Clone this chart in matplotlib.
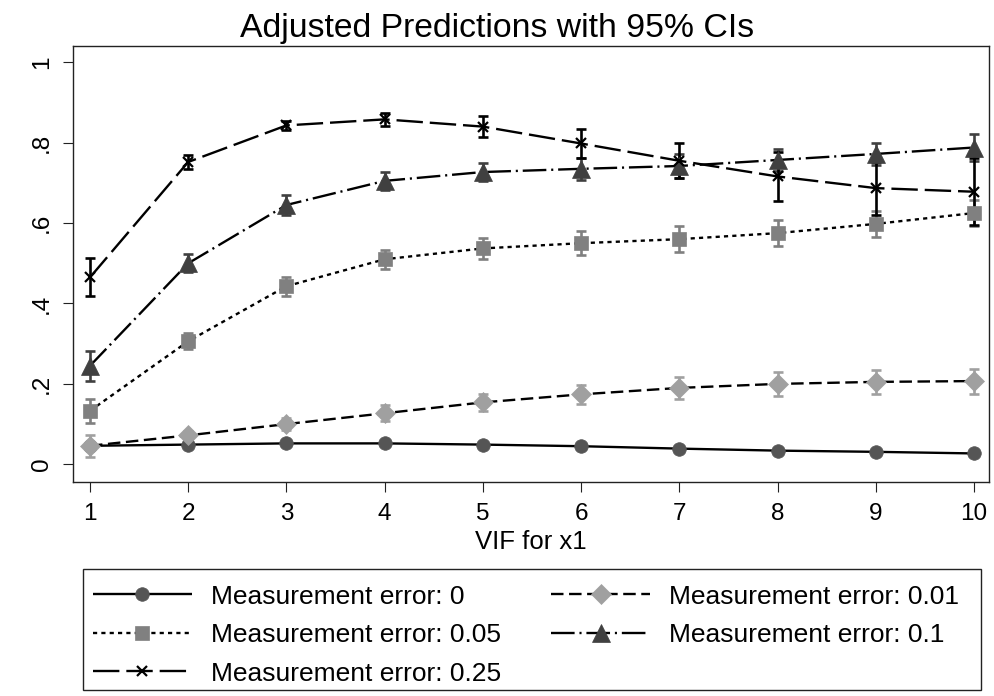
import matplotlib
matplotlib.use('Agg')
import matplotlib.pyplot as plt
from matplotlib.patches import Rectangle
import numpy as np

plt.rcParams['font.family'] = ['Liberation Sans', 'DejaVu Sans']
plt.rcParams['lines.scale_dashes'] = False

# VIF values on the x axis
vif = [1, 2, 3, 4, 5, 6, 7, 8, 9, 10]

# predicted values (margins) and half-width of 95% CI per measurement error level
me_0 = [0.046, 0.049, 0.052, 0.052, 0.049, 0.045, 0.039, 0.034, 0.031, 0.027]
me_0_ci = [0.008, 0.006, 0.006, 0.006, 0.006, 0.006, 0.006, 0.006, 0.005, 0.005]

me_001 = [0.046, 0.072, 0.100, 0.127, 0.154, 0.174, 0.190, 0.200, 0.205, 0.207]
me_001_ci = [0.027, 0.012, 0.015, 0.020, 0.021, 0.024, 0.027, 0.030, 0.030, 0.031]

me_005 = [0.133, 0.306, 0.443, 0.510, 0.537, 0.550, 0.560, 0.575, 0.598, 0.625]
me_005_ci = [0.030, 0.020, 0.024, 0.024, 0.026, 0.030, 0.032, 0.033, 0.033, 0.033]

me_01 = [0.245, 0.500, 0.645, 0.705, 0.727, 0.735, 0.742, 0.757, 0.772, 0.788]
me_01_ci = [0.037, 0.022, 0.024, 0.022, 0.023, 0.028, 0.029, 0.027, 0.028, 0.033]

me_025 = [0.465, 0.752, 0.843, 0.858, 0.840, 0.798, 0.755, 0.716, 0.687, 0.678]
me_025_ci = [0.047, 0.018, 0.012, 0.017, 0.026, 0.035, 0.044, 0.061, 0.066, 0.083]

rotulos = ['Measurement error: 0', 'Measurement error: 0.01', 'Measurement error: 0.05',
           'Measurement error: 0.1', 'Measurement error: 0.25']

# style per series: marker, marker size, marker colour, dash pattern
estilos = [
    ('o', 9.8, '#555555', (0, ())),
    ('D', 10.5, '#a0a0a0', (0, (9, 4))),
    ('s', 10.5, '#808080', (0, (3, 3))),
    ('^', 12.5, '#404040', (0, (17, 3.5, 1.5, 3.5))),
    ('x', 7.5, '#000000', (0, (19, 5))),
]
series = [(me_0, me_0_ci), (me_001, me_001_ci), (me_005, me_005_ci),
          (me_01, me_01_ci), (me_025, me_025_ci)]

W, H = 995, 696
fig = plt.figure(figsize=(W / 100, H / 100), dpi=100)
ax = fig.add_axes([72.7 / W, 1 - 481.7 / H, (989.3 - 72.7) / W, (481.7 - 46) / H])

handles = []
for (vals, ci), (mk, ms, cor, ls), rot in zip(series, estilos, rotulos):
    ax.errorbar(vif, vals, yerr=ci, fmt='none', ecolor=cor, elinewidth=1.9,
                capsize=3.8, capthick=1.9, zorder=2)
    h, = ax.plot(vif, vals, color='black', linestyle=ls, linewidth=1.7,
                 marker=mk, markersize=ms, markerfacecolor=cor,
                 markeredgecolor=cor, markeredgewidth=1.6 if mk == 'x' else 0.5,
                 label=rot, zorder=3)
    handles.append(h)

ax.set_xlim(0.824, 10.156)
ax.set_ylim(-0.0433, 1.0405)
ax.set_xticks(vif)
ax.set_xticklabels([str(v) for v in vif], fontsize=17.5)
ax.set_yticks([0, 0.2, 0.4, 0.6, 0.8, 1])
ax.set_yticklabels(['0', '.2', '.4', '.6', '.8', '1'], fontsize=17.5,
                   rotation=90, va='center')
ax.tick_params(axis='both', direction='out', length=7.2, width=0.8, color='#222222')
ax.tick_params(axis='x', pad=8)
ax.tick_params(axis='y', pad=7)
for sp in ax.spines.values():
    sp.set_linewidth(1.0)
    sp.set_color('#222222')

ax.set_xlabel('VIF for x1', fontsize=18.5, labelpad=4)
# title is centred on the whole figure, not on the plot region
fig.text(0.5, 1 - 37.5 / H, 'Adjusted Predictions with 95% CIs', fontsize=24.3,
         ha='center', va='baseline')

# Stata fills the legend row by row; matplotlib fills column by column
ordem = [0, 2, 4, 1, 3]
leg = fig.legend([handles[i] for i in ordem], [rotulos[i] for i in ordem],
                 ncol=2, loc='upper left', bbox_to_anchor=(93 / W, 1 - 584.5 / H),
                 borderaxespad=0, borderpad=0, fontsize=19, numpoints=1,
                 handlelength=3.75, handletextpad=0.72, labelspacing=0.55,
                 columnspacing=1.9, frameon=False)

# legend box drawn separately so it spans the full width like Stata's
fig.patches.append(Rectangle((82.7 / W, 1 - 690 / H), (981 - 82.7) / W, (690 - 569.3) / H,
                             transform=fig.transFigure, fill=False,
                             edgecolor='#222222', linewidth=1.0))

fig.savefig('out.png', dpi=100)
